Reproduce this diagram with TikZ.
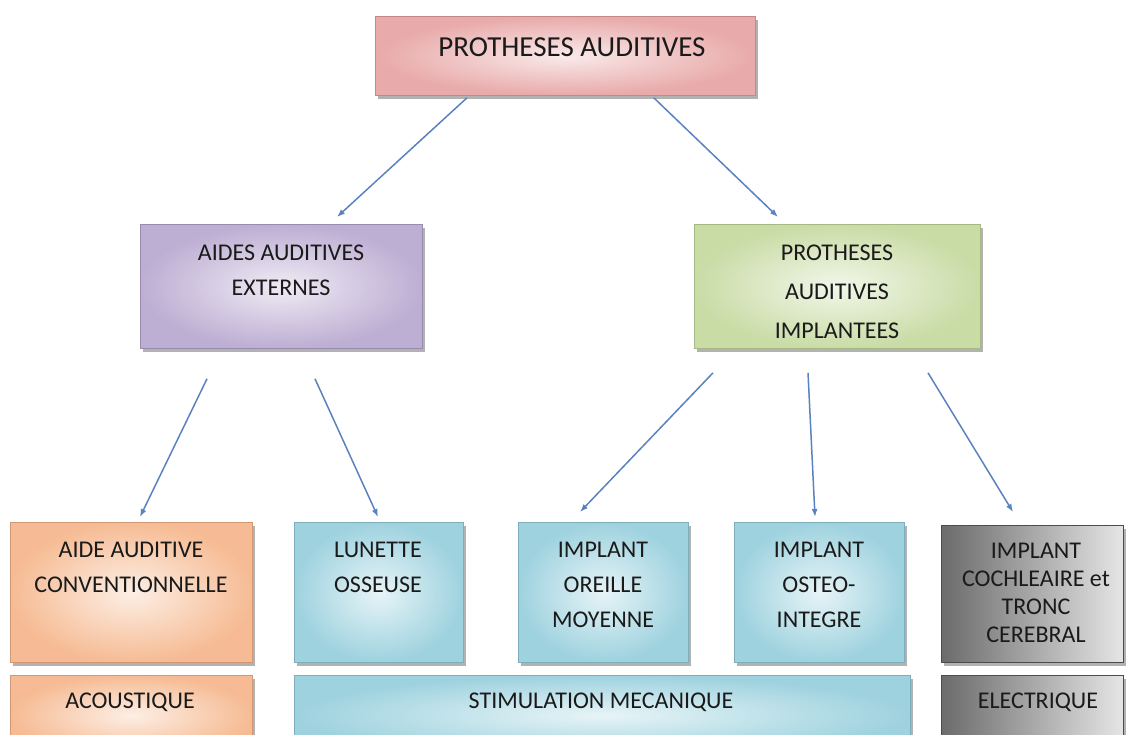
\documentclass[tikz,border=0pt]{standalone}
\usepackage{fontspec}
\setmainfont{Carlito}
\usetikzlibrary{shadows,arrows.meta}
\definecolor{arrowc}{HTML}{5A82BE}
\definecolor{txt}{HTML}{1A1A1A}
\tikzset{
  box/.style={draw, line width=0.8pt, anchor=north west, inner sep=0pt,
    drop shadow={shadow xshift=3pt, shadow yshift=-4pt, opacity=0.55, fill=black!55}},
  pinkbox/.style={box, draw=#1!85!black, inner color=#1!22!white, outer color=#1!90!white},
  lab/.style={anchor=north, inner sep=0pt, align=center, text=txt, font=\fontsize{24}{35}\selectfont},
  arr/.style={draw=arrowc, line width=1.5pt, -{Latex[length=8pt,width=6pt]}},
}
\definecolor{cpink}{HTML}{E6A0A0}
\definecolor{cpurple}{HTML}{B6A5CE}
\definecolor{cgreen}{HTML}{C3D89C}
\definecolor{corange}{HTML}{F5B488}
\definecolor{cblue}{HTML}{93CDDB}
\begin{document}
\begin{tikzpicture}[x=1pt,y=-1pt]
\useasboundingbox (0,0) rectangle (1126,734);
\clip (0,0) rectangle (1126,734);
% boxes
\node[pinkbox=cpink, minimum width=380pt, minimum height=79pt] (top) at (375,16) {};
\node[pinkbox=cpurple, minimum width=282pt, minimum height=124pt] (ext) at (140,224) {};
\node[pinkbox=cgreen, minimum width=286pt, minimum height=124pt] (imp) at (694,224) {};
\node[pinkbox=corange, minimum width=242pt, minimum height=140pt] (conv) at (10,522) {};
\node[pinkbox=cblue, minimum width=169pt, minimum height=140pt] (lun) at (294,522) {};
\node[pinkbox=cblue, minimum width=170pt, minimum height=140pt] (ore) at (518,522) {};
\node[pinkbox=cblue, minimum width=170pt, minimum height=140pt] (ost) at (734,522) {};
\node[box, draw=black!70, left color=black!58, right color=black!10, minimum width=182pt, minimum height=137pt] (coc) at (941,525) {};
\node[pinkbox=corange, minimum width=242pt, minimum height=80pt] (aco) at (10,675) {};
\node[pinkbox=cblue, minimum width=616pt, minimum height=80pt] (sti) at (294,675) {};
\node[box, draw=black!70, left color=black!58, right color=black!10, minimum width=182pt, minimum height=80pt] (ele) at (941,675) {};
% texts
\node[lab, font=\fontsize{29}{35}\selectfont] (ttop) at (572,37) {PROTHESES AUDITIVES};
\node[lab] (text) at (281,245) {AIDES AUDITIVES\\EXTERNES};
\node[lab, font=\fontsize{24}{39}\selectfont] (timp) at (837,245) {PROTHESES\\AUDITIVES\\IMPLANTEES};
\node[lab] (tconv) at (131,542) {AIDE AUDITIVE\\CONVENTIONNELLE};
\node[lab] (tlun) at (378,542) {LUNETTE\\OSSEUSE};
\node[lab] (tore) at (603,542) {IMPLANT\\OREILLE\\MOYENNE};
\node[lab] (tost) at (819,542) {IMPLANT\\OSTEO-\\INTEGRE};
\node[lab, font=\fontsize{24}{28}\selectfont] (tcoc) at (1036,543) {IMPLANT\\COCHLEAIRE et\\TRONC\\CEREBRAL};
\node[lab] (taco) at (130,693) {ACOUSTIQUE};
\node[lab] (tsti) at (601,693) {STIMULATION MECANIQUE};
\node[lab] (tele) at (1038,693) {ELECTRIQUE};
% arrows
\draw[arr] ([xshift=92pt,yshift=-2pt]top.south west) -- ([xshift=197pt,yshift=7pt]ext.north west);
\draw[arr] ([xshift=-102pt,yshift=-2pt]top.south east) -- ([xshift=84pt,yshift=7pt]imp.north west);
\draw[arr] ([xshift=67pt,yshift=-30pt]ext.south west) -- ([xshift=130pt,yshift=5pt]conv.north west);
\draw[arr] ([xshift=175pt,yshift=-30pt]ext.south west) -- ([xshift=84pt,yshift=5pt]lun.north west);
\draw[arr] ([xshift=19pt,yshift=-24pt]imp.south west) -- ([xshift=62pt,yshift=10pt]ore.north west);
\draw[arr] ([xshift=114pt,yshift=-24pt]imp.south west) -- ([xshift=81pt,yshift=5pt]ost.north west);
\draw[arr] ([xshift=234pt,yshift=-24pt]imp.south west) -- ([xshift=72pt,yshift=13pt]coc.north west);
\end{tikzpicture}
\end{document}
